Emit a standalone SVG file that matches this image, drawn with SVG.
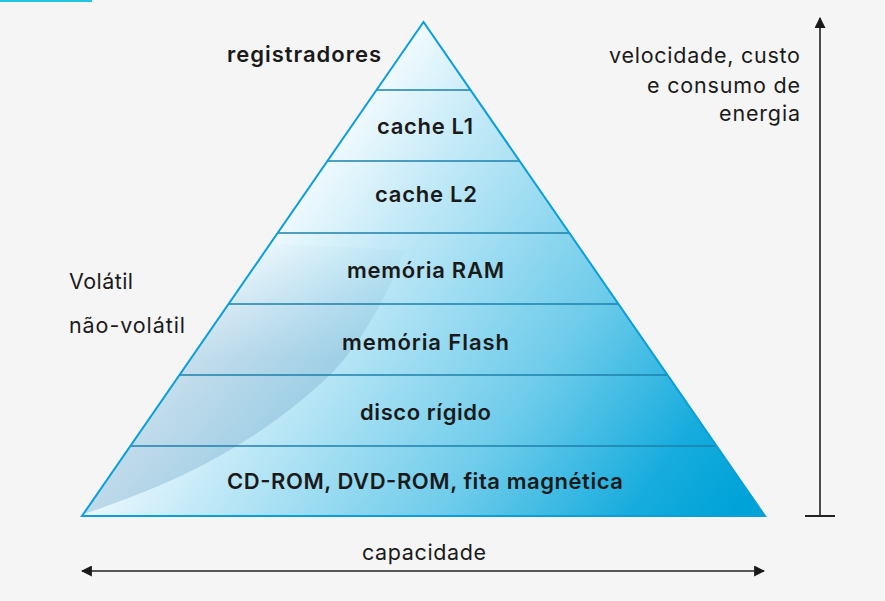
<svg xmlns="http://www.w3.org/2000/svg" width="885" height="601" viewBox="0 0 885 601">
<defs>
<style>
.lbl{font-family:Inter,"Open Sans","Liberation Sans",sans-serif;font-weight:600;font-size:22px;fill:#1a1a1a;text-anchor:middle}
.txt{font-family:Inter,"Open Sans","Liberation Sans",sans-serif;font-weight:400;font-size:21.5px;fill:#1a1a1a}
.band{stroke:#1c80ab;stroke-width:1.6;fill:none}
.axis{stroke:#222;stroke-width:1.6;fill:none}
</style>
<linearGradient id="pg" gradientUnits="userSpaceOnUse" x1="300" y1="180" x2="740" y2="500">
<stop offset="0" stop-color="#f3fbfe"/>
<stop offset="0.2" stop-color="#c2e9f7"/>
<stop offset="0.58" stop-color="#6ccbea"/>
<stop offset="0.85" stop-color="#17acdd"/>
<stop offset="1" stop-color="#00a3d8"/>
</linearGradient>
<linearGradient id="og" gradientUnits="userSpaceOnUse" x1="0" y1="516" x2="0" y2="230">
<stop offset="0" stop-color="#6a9fc4" stop-opacity="0.34"/>
<stop offset="0.55" stop-color="#6a9fc4" stop-opacity="0.3"/>
<stop offset="1" stop-color="#6a9fc4" stop-opacity="0"/>
</linearGradient>
<clipPath id="tri"><polygon points="423.5,22 82,516 765,516"/></clipPath>
<marker id="ah" viewBox="0 0 10 10" refX="9" refY="5" markerWidth="11" markerHeight="11" orient="auto-start-reverse" markerUnits="userSpaceOnUse">
<path d="M0,0 L10,5 L0,10 Z" fill="#1a1a1a"/>
</marker>
</defs>
<rect width="885" height="601" fill="#f5f5f5"/>
<rect x="0" y="0" width="92" height="2" fill="#22c6e0"/>

<g id="pyramid">
<polygon points="423.5,22 82,516 765,516" fill="url(#pg)"/>
<path d="M84,514 C170,485 250,450 330,375 C362,342 385,300 405,250 L0,230 L0,516 Z" fill="url(#og)" clip-path="url(#tri)"/>
<line class="band" x1="376.5" y1="90" x2="470.5" y2="90"/>
<line class="band" x1="327.4" y1="161" x2="519.6" y2="161"/>
<line class="band" x1="277.7" y1="233" x2="569.3" y2="233"/>
<line class="band" x1="228.6" y1="304" x2="618.4" y2="304"/>
<line class="band" x1="179.6" y1="375" x2="667.4" y2="375"/>
<line class="band" x1="130.5" y1="446" x2="716.5" y2="446"/>
<polygon points="423.5,22 82,516 765,516" fill="none" stroke="#0a9fd9" stroke-width="2" stroke-linejoin="miter"/>
</g>

<g id="n-registradores"><text class="lbl" x="304" y="62" textLength="154" lengthAdjust="spacing">registradores</text></g>
<g id="n-cacheL1"><text class="lbl" x="425" y="134" textLength="96" lengthAdjust="spacing">cache L1</text></g>
<g id="n-cacheL2"><text class="lbl" x="426" y="202" textLength="102" lengthAdjust="spacing">cache L2</text></g>
<g id="n-ram"><text class="lbl" x="425.5" y="278" textLength="157" lengthAdjust="spacing">memória RAM</text></g>
<g id="n-flash"><text class="lbl" x="425.5" y="350" textLength="167" lengthAdjust="spacing">memória Flash</text></g>
<g id="n-disco"><text class="lbl" x="425.5" y="420" textLength="131" lengthAdjust="spacing">disco rígido</text></g>
<g id="n-cd"><text class="lbl" x="425" y="489" textLength="396" lengthAdjust="spacing">CD-ROM, DVD-ROM, fita magnética</text></g>

<g id="n-volatil"><text class="txt" x="69" y="289" textLength="64" lengthAdjust="spacing">Volátil</text><text class="txt" x="69" y="333" textLength="116" lengthAdjust="spacing">não-volátil</text></g>
<g id="n-velocidade"><text class="txt" x="609" y="63" textLength="191" lengthAdjust="spacing">velocidade, custo</text><text class="txt" x="647" y="93" textLength="153" lengthAdjust="spacing">e consumo de</text><text class="txt" x="719" y="121" textLength="81" lengthAdjust="spacing">energia</text></g>
<g id="n-capacidade"><text class="txt" x="362" y="560" textLength="124" lengthAdjust="spacing">capacidade</text></g>

<g id="connectors">
<line class="axis" x1="820" y1="516" x2="820" y2="18" marker-end="url(#ah)"/>
<line x1="805" y1="516" x2="835" y2="516" stroke="#222" stroke-width="2"/>
<line class="axis" x1="82" y1="571" x2="764" y2="571" marker-start="url(#ah)" marker-end="url(#ah)"/>
</g>
</svg>
